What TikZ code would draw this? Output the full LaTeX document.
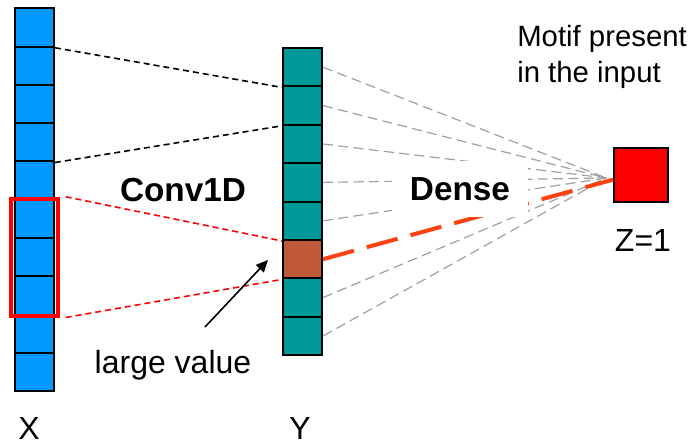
\documentclass[tikz,border=0pt]{standalone}
\usepackage{fontspec}
\setmainfont{Liberation Sans}
\usetikzlibrary{arrows.meta, positioning, fit}

\definecolor{xblue}{HTML}{0099FF}
\definecolor{yteal}{HTML}{009999}
\definecolor{hitbrown}{HTML}{C0583A}
\definecolor{hitorange}{HTML}{FF4010}
\definecolor{linegray}{HTML}{A0A0A0}

\begin{document}
\begin{tikzpicture}[
      x=0.75pt, y=-0.75pt,
      xcell/.style={rectangle, draw, line width=1.5pt, fill=xblue, minimum width=29.25pt, minimum height=28.7pt, inner sep=0pt},
      ycell/.style={rectangle, draw, line width=1.5pt, fill=yteal, minimum width=29.25pt, minimum height=28.8pt, inner sep=0pt},
      outbox/.style={rectangle, draw, line width=1.5pt, fill=red, minimum size=40.5pt, inner sep=0pt},
      lbl/.style={font=\fontsize{22pt}{27pt}\selectfont, inner sep=0pt},
      biglbl/.style={font=\fontsize{24pt}{28pt}\selectfont, inner sep=0pt},
      layer/.style={font=\fontsize{25pt}{30pt}\selectfont\bfseries},
      conv/.style={dash pattern=on 4.5pt off 3pt, line width=1.2pt},
      dense/.style={dash pattern=on 7.5pt off 4pt, line width=0.9pt, draw=linegray},
      hitline/.style={dash pattern=on 24pt off 10pt, line width=3pt, draw=hitorange},
      arrow/.style={-{Triangle[length=9pt, width=8pt]}, line width=1.2pt}
    ]
    \useasboundingbox (0,0) rectangle (692,444);

    % input and conv output columns
    \foreach \i in {1,...,10}
      \node[xcell] (x\i) at (34.5, {8.5+38.25*(\i-0.5)}) {};
    \foreach \i in {1,...,8}
      \node[ycell] (y\i) at (302.5, {48+38.4*(\i-0.5)}) {};
    \node[ycell, fill=hitbrown] (y6) at (y6) {};

    \node[fit=(x6)(x8), draw=red, line width=3pt, inner xsep=2.5pt, inner ysep=0pt] (win) {};

    \node[outbox] (z) at (641,175) {};
    \coordinate (hub) at ([xshift=-5pt, yshift=-2.25pt]z.west);

    % conv connections
    \draw[conv] (x1.south east) -- (y1.south west);
    \draw[conv] (x4.south east) -- (y2.south west);
    \draw[conv, red] ([xshift=4pt]win.north east) -- (y5.south west);
    \draw[conv, red] ([xshift=4pt]win.south east) -- (y6.south west);

    % dense connections
    \foreach \i in {1,2,3,4,5,7,8}
      \draw[dense] (y\i.east) -- (hub);
    \draw[hitline] (y6.east) -- ([yshift=-3.5pt]z.west);

    \node[layer] (convlbl) at (183,190) {Conv1D};
    \node[layer, fill=white, inner xsep=13.5pt, inner ysep=12pt] (denselbl) at (460,189) {Dense};

    \node[lbl, align=left, anchor=west] (motif) at (517,57) {Motif present\\in the input};
    \node[biglbl] (zlbl) at (643,240) {Z=1};
    \node[biglbl] (large) at (173,365) {large value};
    \node[biglbl] (xlbl) at (29,428) {X};
    \node[biglbl] (ylbl) at (300,428) {Y};

    \coordinate (tail) at (205,327);
    \coordinate (tip) at (268,260);
    \draw[arrow] (tail) -- (tip);
  \end{tikzpicture}
\end{document}
